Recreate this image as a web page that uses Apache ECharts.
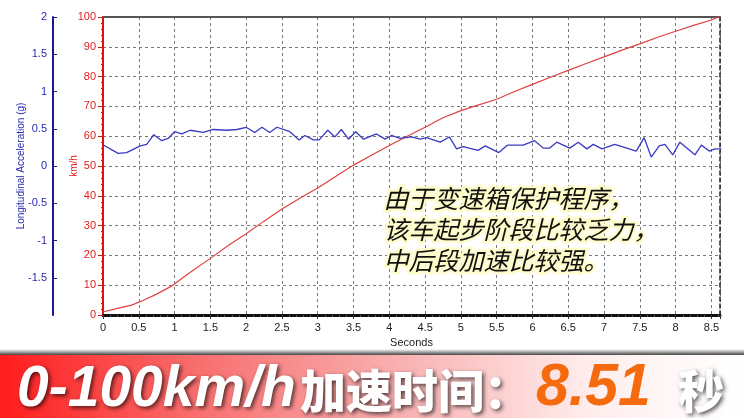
<!DOCTYPE html>
<html><head><meta charset="utf-8">
<script src="https://cdn.jsdelivr.net/npm/echarts@6/dist/echarts.min.js"></script>
<style>html,body{margin:0;padding:0;background:#fff}#c{width:744px;height:418px}</style>
</head><body><div id="c"></div>
<script>
// Speed (km/h) samples
var speedTime = [0,0.2,0.4,0.55,0.75,0.95,1.2,1.5,1.75,2.0,2.25,2.5,2.75,3.0,3.25,3.5,3.75,4.0,4.25,4.5,4.75,5.0,5.25,5.5,5.75,6.0,6.25,6.5,6.75,7.0,7.25,7.5,7.75,8.0,8.25,8.5,8.61];
var speedVal  = [1.0,2.2,3.3,4.8,7.0,9.6,14,19,23.3,27.3,31.5,35.6,39.2,42.6,46.5,50.3,53.6,56.9,60.0,63.0,66.2,68.6,70.5,72.4,75.0,77.4,79.8,82.1,84.4,86.6,88.9,91.0,93.2,95.2,97.2,99.0,100.2];
// Longitudinal acceleration (g) samples
var accTime = [0,0.21,0.33,0.52,0.61,0.71,0.82,0.91,1.0,1.1,1.22,1.4,1.54,1.73,1.87,2.0,2.12,2.22,2.33,2.43,2.61,2.74,2.82,2.94,3.02,3.14,3.24,3.33,3.43,3.53,3.64,3.82,3.94,4.03,4.15,4.31,4.43,4.52,4.71,4.84,4.94,5.03,5.24,5.34,5.53,5.65,5.87,6.03,6.15,6.24,6.34,6.52,6.64,6.76,6.85,6.97,7.15,7.45,7.56,7.66,7.77,7.85,7.96,8.06,8.27,8.36,8.47,8.55,8.64];
var accVal  = [0.285,0.17,0.18,0.27,0.29,0.42,0.34,0.37,0.46,0.43,0.48,0.45,0.49,0.48,0.49,0.52,0.45,0.52,0.45,0.52,0.46,0.35,0.41,0.35,0.35,0.48,0.39,0.49,0.36,0.46,0.36,0.43,0.36,0.41,0.37,0.39,0.36,0.38,0.32,0.39,0.23,0.26,0.21,0.27,0.18,0.28,0.28,0.34,0.24,0.24,0.32,0.24,0.32,0.23,0.29,0.23,0.29,0.2,0.38,0.12,0.27,0.29,0.15,0.32,0.15,0.28,0.2,0.23,0.23];
var xTitle = 'Seconds';
var speedTitle = 'km/h';
var accTitle = 'Longitudinal Acceleration (g)';
var note = '由于变速箱保护程序，\n该车起步阶段比较乏力，\n中后段加速比较强。';
var bannerA = '0-100km/h', bannerB = '加速时间：', bannerC = '8.51', bannerD = '秒';

var speedData = speedTime.map(function(t,i){return [t, speedVal[i]];});
var accData = accTime.map(function(t,i){return [t, accVal[i]];});

var chart = echarts.init(document.getElementById('c'));
var lab = {fontFamily:'Liberation Sans', fontSize:11};
var shadowTxt = {textShadowColor:'rgba(0,0,0,0.65)', textShadowBlur:4, textShadowOffsetX:2, textShadowOffsetY:2};
chart.setOption({
  animation:false,
  grid:{left:103, right:24, top:17, bottom:103},
  xAxis:[{
    type:'value', min:0, max:8.62, interval:0.5,
    name:xTitle, nameLocation:'middle', nameGap:22,
    nameTextStyle:{color:'#222', fontFamily:'Liberation Sans', fontSize:11},
    axisLine:{onZero:false, lineStyle:{color:'#111', width:3}},
    axisTick:{show:true, length:4, lineStyle:{color:'#333'}},
    minorTick:{show:true, splitNumber:5, length:2, lineStyle:{color:'#555'}},
    axisLabel:Object.assign({color:'#222', margin:7, showMaxLabel:false}, lab),
    splitLine:{show:true, lineStyle:{color:'#7a7a7a', type:[3,3], width:1}}
  },{
    type:'value', min:0, max:8.62, position:'top',
    axisLine:{show:true, onZero:false, lineStyle:{color:'#555', width:2}},
    axisTick:{show:false}, axisLabel:{show:false}, splitLine:{show:false}
  }],
  yAxis:[{
    type:'value', min:0, max:100, interval:10, position:'left',
    name:speedTitle, nameLocation:'middle', nameGap:24, nameRotate:90, nameMoveOverlap:false,
    nameTextStyle:{color:'#e02020', fontFamily:'Liberation Sans', fontSize:10},
    axisLine:{show:true, onZero:false, lineStyle:{color:'#e01010', width:2}},
    axisTick:{show:true, length:5, lineStyle:{color:'#e01010'}},
    minorTick:{show:true, splitNumber:5, length:2, lineStyle:{color:'#e01010'}},
    axisLabel:Object.assign({color:'#e02020', margin:7}, lab),
    splitLine:{show:true, lineStyle:{color:'#7a7a7a', type:[3,3], width:1}}
  },{
    type:'value', min:-2, max:2, interval:0.5, position:'left', offset:50,
    name:accTitle, nameLocation:'middle', nameGap:27, nameRotate:90, nameMoveOverlap:false,
    nameTextStyle:{color:'#2a2ab0', fontFamily:'Liberation Sans', fontSize:10},
    axisLine:{show:true, onZero:false, lineStyle:{color:'#1a1a8c', width:2}},
    axisTick:{show:true, length:4, inside:true, lineStyle:{color:'#1a1a8c'}},
    axisLabel:Object.assign({color:'#2a2ab0', margin:6, showMinLabel:false}, lab),
    splitLine:{show:false}
  },{
    type:'value', min:0, max:100, position:'right',
    axisLine:{show:true, onZero:false, lineStyle:{color:'#222', width:1.5, type:[4,3]}},
    axisTick:{show:false}, axisLabel:{show:false}, splitLine:{show:false}
  }],
  series:[{
    type:'line', xAxisIndex:0, yAxisIndex:0, data:speedData, showSymbol:false,
    lineStyle:{color:'#e04040', width:1.2}
  },{
    type:'line', xAxisIndex:0, yAxisIndex:1, data:accData, showSymbol:false,
    lineStyle:{color:'#3a3ac0', width:1.3}
  }],
  graphic:[
    {type:'text', left:381, top:183, z:10, style:{
      text:note, fill:'#111', fontFamily:'Noto Sans CJK SC', fontStyle:'italic', fontSize:25, lineHeight:31,
      stroke:'rgba(255,252,200,0.95)', lineWidth:5
    }},
    {type:'rect', shape:{x:0, y:349, width:744, height:6}, style:{fill:new echarts.graphic.LinearGradient(0,0,0,1,[{offset:0,color:'rgba(80,80,80,0)'},{offset:1,color:'#444'}])}},
    {type:'rect', shape:{x:0, y:355, width:744, height:63}, style:{fill:new echarts.graphic.LinearGradient(0,0,1,0,[{offset:0,color:'#ff1c1c'},{offset:0.25,color:'#f96a6a'},{offset:0.5,color:'#f8a8a8'},{offset:0.8,color:'#ffeeee'},{offset:1,color:'#ffffff'}])}},
    {type:'text', x:17, y:390, z:20, style:Object.assign({text:bannerA, fill:'#fff', fontFamily:'Liberation Sans', fontWeight:'bold', fontStyle:'italic', fontSize:57, verticalAlign:'middle'}, shadowTxt)},
    {type:'text', x:300, y:391, z:20, style:Object.assign({text:bannerB, fill:'#fff', fontFamily:'Noto Sans CJK SC', fontWeight:900, fontSize:46, verticalAlign:'middle'}, shadowTxt)},
    {type:'text', x:536, y:389, z:20, style:{text:bannerC, fill:'#f56a0c', fontFamily:'Liberation Sans', fontWeight:'bold', fontStyle:'italic', fontSize:59, verticalAlign:'middle'}},
    {type:'text', x:678, y:391, z:20, style:Object.assign({text:bannerD, fill:'#fff', fontFamily:'Noto Sans CJK SC', fontWeight:900, fontSize:46, verticalAlign:'middle'}, shadowTxt)}
  ]
});
</script></body></html>
